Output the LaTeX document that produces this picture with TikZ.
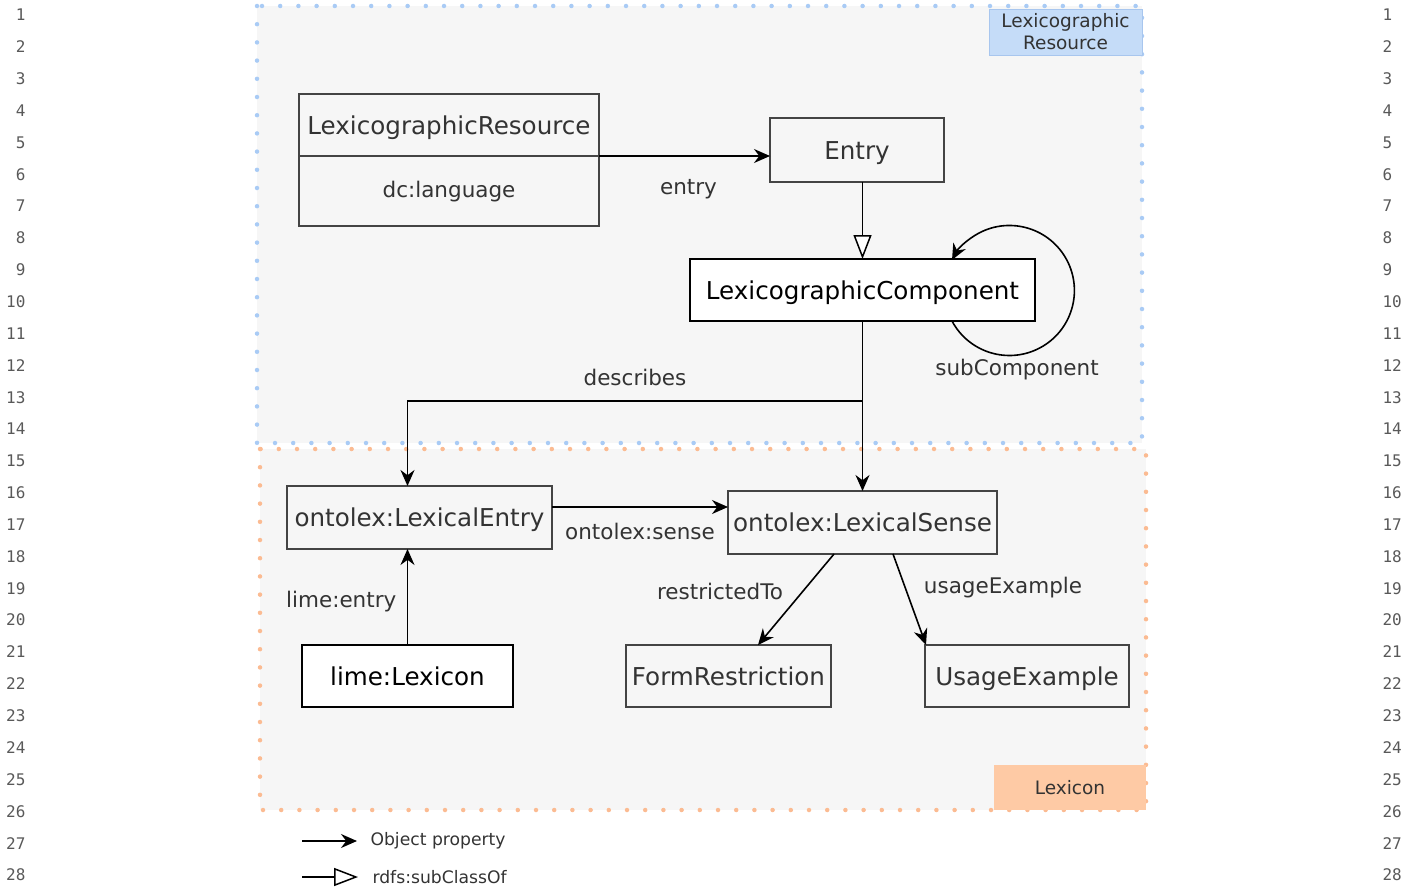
\documentclass[tikz,border=0pt]{standalone}
\usepackage{fontspec}
\setmainfont{DejaVu Sans}
\newfontfamily\lnfont{DejaVu Sans Mono}
\usetikzlibrary{arrows.meta}
\usetikzlibrary{positioning}
\definecolor{bgfill}{HTML}{F6F6F6}
\definecolor{resdot}{HTML}{A9CBF5}
\definecolor{reslbl}{HTML}{C5DCF8}
\definecolor{resedge}{HTML}{A8C6EE}
\definecolor{lexdot}{HTML}{FBBB92}
\definecolor{lexlbl}{HTML}{FECAA5}
\definecolor{boxline}{HTML}{444444}
\definecolor{boxtext}{HTML}{333333}

\begin{document}
\begin{tikzpicture}[x=1pt, y=-1pt,
  cls/.style={draw=boxline, line width=1.3pt, text=boxtext, inner sep=0pt, outer sep=0pt, text height=18.7pt, text depth=0pt, font=\fontsize{24.6}{28}\selectfont},
  clsw/.style={cls, draw=black, fill=white, text=black},
  lbl/.style={text=boxtext, font=\fontsize{21.5}{25}\selectfont},
  obj/.style={line width=1.6pt, -{Stealth[length=16pt, width=14pt]}},
  subcls/.style={line width=1.5pt, -{Triangle[fill=white, length=24pt, width=18pt]}},
  grp/.style={fill=bgfill, line width=4.5pt, line cap=round, dash pattern=on 0pt off 18.2pt},
  grplbl/.style={inner sep=0pt, align=center, font=\fontsize{18.5}{22}\selectfont, text=boxtext},
  lgd/.style={font=\fontsize{17.2}{20}\selectfont, anchor=west, text=boxtext},
  lnum/.style={font=\lnfont\fontsize{16}{18}\selectfont, text=black!65}]

\useasboundingbox (0,0) rectangle (1418,891);

% Line numbers
\foreach \n in {1,...,28} {
  \node[lnum, anchor=east] (ln\n) at (29, {15+31.85*(\n-1)}) {\n};
  \node[lnum, anchor=west] (rn\n) at (1379, {15+31.85*(\n-1)}) {\n};
}

% Groups
\draw[grp, draw=resdot] (257,6) rectangle (1142,443);
\draw[grp, draw=lexdot] (260,449) rectangle (1146,810);
\node[grplbl, fill=reslbl, draw=resedge, line width=0.8pt, minimum width=153pt, minimum height=46pt] (reslabel) at (1065.5,32) {Lexicographic\\Resource};
\node[grplbl, fill=lexlbl, minimum width=152pt, minimum height=45pt] (lexlabel) at (1070,787.5) {Lexicon};

% Classes
\node[cls, minimum width=300pt, minimum height=62pt] (lres) at (449,125) {LexicographicResource};
\node[cls, minimum width=300pt, minimum height=70pt, below=0pt of lres, text height=16.3pt, text depth=3pt, font=\fontsize{21.5}{25}\selectfont] (lang) {dc:language};
\node[cls, minimum width=174pt, minimum height=64pt] (entry) at (857,150) {Entry};
\node[clsw, minimum width=345pt, minimum height=62pt] (comp) at (862.5,290) {LexicographicComponent};
\node[cls, minimum width=265pt, minimum height=63pt] (lentry) at (419.5,517.5) {ontolex:LexicalEntry};
\node[cls, minimum width=269pt, minimum height=63pt] (sense) at (862.5,522.5) {ontolex:LexicalSense};
\node[clsw, line width=2pt, minimum width=211pt, minimum height=62pt] (lex) at (407.5,676) {lime:Lexicon};
\node[cls, minimum width=205pt, minimum height=62pt] (formr) at (728.5,676) {FormRestriction};
\node[cls, minimum width=204pt, minimum height=62pt] (usage) at (1027,676) {UsageExample};

% Edges
\draw[obj] (lres.south east) -- (entry.west |- lres.south east) node[lbl, midway, xshift=4pt, yshift=-33pt] {entry};
\draw[subcls] (comp.north |- entry.south) -- (comp.north);
\draw[obj] ([xshift=89.5pt]comp.south) node[lbl, xshift=65pt, yshift=-49pt] {subComponent} arc[start angle=152, end angle=-152, radius=65];
\draw[obj] (comp.south) -- (sense.north);
\draw[obj] (comp.south) -- ++(0,80) -| node[lbl, pos=0.25, yshift=24pt] {describes} (lex |- lentry.north);
\draw[obj] ([yshift=10.5pt]lentry.east) -- ([yshift=15.5pt]sense.west) node[lbl, midway, yshift=-24pt] {ontolex:sense};
\draw[obj] (lex.north) -- (lex |- lentry.south) node[lbl, midway, left=7pt, yshift=-5pt] {lime:entry};
\draw[obj] ([xshift=-28.5pt]sense.south) -- ([xshift=29.5pt]formr.north) node[lbl, midway, xshift=-76pt, yshift=8.5pt] {restrictedTo};
\draw[obj] ([xshift=30.5pt]sense.south) -- ([xshift=1pt]usage.north west) node[lbl, midway, xshift=93.5pt, yshift=11.5pt] {usageExample};

% Legend
\coordinate (lgobjs) at (302,841);
\node[lgd] (lgobj) at (367,841) {Object property};
\draw[obj, shorten >=10pt] (lgobjs) -- (lgobj.west);
\coordinate (lgsubs) at (302,877);
\node[lgd] (lgsub) at (369,877) {rdfs:subClassOf};
\draw[subcls, shorten >=11pt] (lgsubs) -- (lgsub.west);

\end{tikzpicture}
\end{document}
